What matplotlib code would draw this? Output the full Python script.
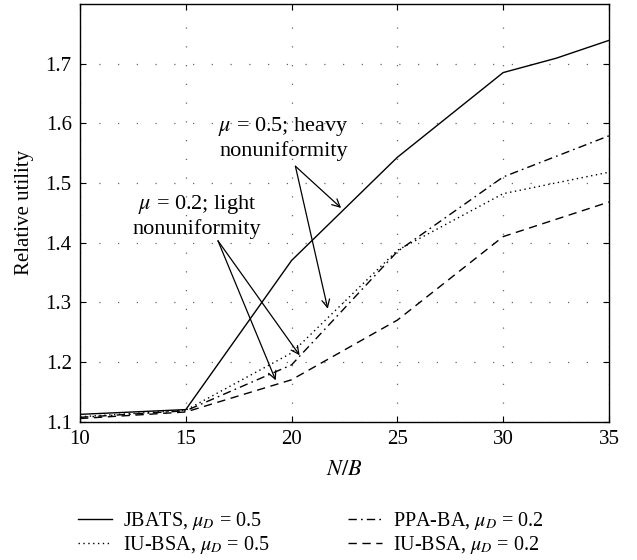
import matplotlib
matplotlib.use("Agg")
import matplotlib.pyplot as plt

plt.rcParams['font.family'] = ['Liberation Serif', 'DejaVu Serif']
plt.rcParams['mathtext.fontset'] = 'stix'

# data
nb = [10, 15, 20, 25, 30, 35]
nb_jbats = [10, 15, 20, 25, 30, 32.5, 35]
jbats_05 = [1.112, 1.120, 1.370, 1.543, 1.685, 1.709, 1.739]
iubsa_05 = [1.108, 1.119, 1.215, 1.387, 1.482, 1.518]
ppaba_02 = [1.107, 1.118, 1.195, 1.385, 1.510, 1.579]
iubsa_02 = [1.105, 1.116, 1.170, 1.270, 1.410, 1.468]

xticks = [10, 15, 20, 25, 30, 35]
yticks = [1.1, 1.2, 1.3, 1.4, 1.5, 1.6, 1.7]

fig = plt.figure(figsize=(6.37, 5.6), dpi=100)
ax = fig.add_axes([0.1256, 0.2473, 0.8304, 0.7456])

ax.plot(nb_jbats, jbats_05, color='black', lw=1.0, ls='-',
        label=r'JBATS, $\mu_D$ = 0.5')
ax.plot(nb, iubsa_05, color='black', lw=1.0, ls=(0, (1, 2.5)),
        label=r'IU-BSA, $\mu_D$ = 0.5')
ax.plot(nb, ppaba_02, color='black', lw=1.0, ls=(0, (6, 3, 1.2, 3)),
        label=r'PPA-BA, $\mu_D$ = 0.2')
ax.plot(nb, iubsa_02, color='black', lw=1.0, ls=(0, (6, 4)),
        label=r'IU-BSA, $\mu_D$ = 0.2')

ax.set_xlim(10, 35)
ax.set_ylim(1.1, 1.8)
ax.set_xticks(xticks)
ax.set_yticks(yticks)
ax.tick_params(direction='in', top=True, right=True, labelsize=15, length=4,
               pad=6)
ax.grid(True, ls=(0, (1, 14)), color='#666666', lw=0.9)
for s in ax.spines.values():
    s.set_linewidth(1.0)

ax.set_xlabel(r'$N/B$', fontsize=16, labelpad=9)
ax.set_ylabel('Relative utility', fontsize=15, labelpad=8)

arrow = dict(arrowstyle='->', color='black', lw=0.9, shrinkA=0, shrinkB=0,
             mutation_scale=14)
ax.text(19.62, 1.575, '$\\mu$ = 0.5; heavy\nnonuniformity', ha='center',
        va='center', fontsize=16, linespacing=1.2)
ax.annotate('', xy=(22.34, 1.458), xytext=(20.18, 1.528), arrowprops=arrow)
ax.annotate('', xy=(21.71, 1.289), xytext=(20.18, 1.528), arrowprops=arrow)

ax.text(15.54, 1.445, '$\\mu$ = 0.2; light\nnonuniformity', ha='center',
        va='center', fontsize=16, linespacing=1.2)
ax.annotate('', xy=(20.38, 1.211), xytext=(16.52, 1.403), arrowprops=arrow)
ax.annotate('', xy=(19.25, 1.169), xytext=(16.52, 1.403), arrowprops=arrow)

fig.legend(loc='upper left', bbox_to_anchor=(0.11, 0.103), ncol=2,
           frameon=False, fontsize=14.5, handlelength=1.7, handletextpad=0.55,
           columnspacing=3.85, labelspacing=0.1, borderaxespad=0)

fig.savefig('out.png', dpi=100)
